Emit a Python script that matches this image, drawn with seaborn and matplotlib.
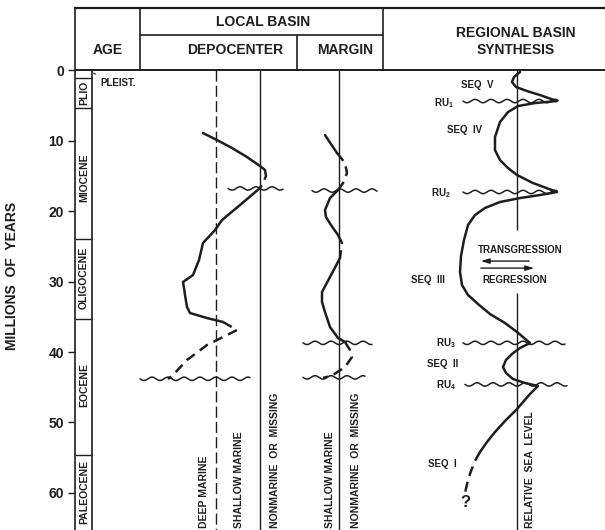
import numpy as np
import matplotlib
matplotlib.use("Agg")
import matplotlib.pyplot as plt
import seaborn as sns

# ---- data (x = horizontal chart position, age in million years) ----
# depocenter facies curve
depo_a_x = [203, 217, 232, 247, 260, 265]
depo_a_age = [8.94, 9.93, 11.06, 12.34, 13.62, 14.18]
depo_b_x = [265, 266, 263, 260]
depo_b_age = [14.18, 15.04, 16.03, 16.74]
depo_c_x = [260, 240, 222, 215, 203, 199, 193, 183, 184, 185, 187, 190, 207, 223]
depo_c_age = [16.74, 19.15, 21.28, 22.70, 24.54, 26.95, 29.08, 30.07, 30.92, 31.91, 33.62, 34.47, 35.18, 35.74]
depo_d_x = [223, 237, 227, 207, 187, 173, 168]
depo_d_age = [35.74, 36.88, 37.59, 39.01, 41.13, 43.26, 43.83]

# margin facies curve
marg_a_x = [325, 331, 337]
marg_a_age = [9.22, 10.50, 11.77]
marg_b_x = [337, 345, 347, 343, 338]
marg_b_age = [11.77, 13.19, 14.61, 16.03, 17.02]
marg_c_x = [338, 330, 325, 326, 331, 338]
marg_c_age = [17.02, 18.16, 19.86, 20.85, 21.99, 23.40]
marg_d_x = [338, 342, 341, 340]
marg_d_age = [23.40, 24.54, 25.53, 26.67]
marg_e_x = [340, 330, 322, 322, 325, 330, 338, 345]
marg_e_age = [26.67, 29.36, 31.49, 32.91, 34.33, 36.45, 38.01, 38.58]
marg_f_x = [345, 350, 352, 345, 333, 323]
marg_f_age = [38.58, 39.72, 40.71, 42.13, 43.26, 43.69]

# regional relative sea level curve
reg_a_x = [520, 514, 512, 516, 527, 540, 557, 535, 518, 508, 500, 495, 495, 500, 508, 517,
           533, 557, 540, 520, 500, 485, 475, 468, 464, 461, 460, 462, 468, 478, 490, 505,
           517, 530, 520, 512, 506, 503, 506, 513, 525, 538, 530, 517, 505, 495, 487, 480]
reg_a_age = [0.28, 0.99, 1.70, 2.41, 2.98, 3.55, 4.40, 4.68, 5.11, 5.96, 7.38, 9.50, 11.35, 12.77, 13.90, 14.89,
             16.03, 17.30, 17.73, 18.16, 18.72, 19.57, 20.57, 21.99, 24.11, 26.38, 28.65, 30.50, 31.91, 33.19, 34.61, 35.89,
             37.16, 38.72, 39.43, 40.28, 41.13, 42.13, 42.98, 43.83, 44.40, 44.82, 45.96, 48.09, 49.79, 51.35, 52.77, 54.18]
reg_b_x = [480, 475, 471, 468, 465]
reg_b_age = [54.18, 55.46, 56.88, 58.16, 60.0]

# unconformities: (age, x start, x end)
unconformities = [(16.8, 228, 283), (43.8, 140, 250),
                  (17.1, 312, 377), (38.7, 303, 372), (43.6, 303, 365),
                  (4.4, 463, 558), (17.3, 463, 557), (38.7, 463, 565), (44.6, 465, 567)]

epoch_names = ["PLIO", "MIOCENE", "OLIGOCENE", "EOCENE", "PALEOCENE"]
epoch_label_age = [3.3, 15.3, 29.5, 44.7, 59.9]
epoch_bounds = [1.13, 5.4, 24.0, 35.3, 54.6]

header_text = ["AGE", "LOCAL BASIN", "DEPOCENTER", "MARGIN", "REGIONAL BASIN\nSYNTHESIS"]
header_x = [108, 263, 235, 345, 516]
header_age = [-2.85, -6.8, -2.85, -2.85, -4.1]

column_labels = ["DEEP MARINE", "SHALLOW MARINE", "NONMARINE  OR  MISSING",
                 "SHALLOW MARINE", "NONMARINE  OR  MISSING", "RELATIVE  SEA  LEVEL"]
column_x = [204, 239, 275, 330, 356, 530]

seq_labels = ["SEQ  V", r"RU$_1$", "SEQ  IV", r"RU$_2$", "SEQ  III", r"RU$_3$", "SEQ  II", r"RU$_4$", "SEQ  I"]
seq_x = [477, 444, 465, 441, 428, 446, 443, 446, 442]
seq_age = [2.13, 4.7, 8.5, 17.4, 29.8, 38.7, 41.7, 44.7, 55.9]

age_ticks = [0, 10, 20, 30, 40, 50, 60]

# ---- style ----
sns.set_style("white")
plt.rcParams['font.family'] = ['Liberation Sans', 'DejaVu Sans']
plt.rcParams['font.weight'] = 'bold'
plt.rcParams['mathtext.fontset'] = 'custom'
plt.rcParams['mathtext.rm'] = 'Liberation Sans:bold'
plt.rcParams['mathtext.it'] = 'Liberation Sans:bold'
plt.rcParams['mathtext.default'] = 'rm'
INK = '#1e1e1e'

fig = plt.figure(figsize=(6.05, 5.3), dpi=100)
ax = fig.add_axes([75 / 605, 0, 530 / 605, 522 / 530])
ax.set_xlim(75, 605)
ax.set_ylim(65.25, -8.8)

solid = dict(color=INK, lw=1.8, sort=False, estimator=None, ax=ax)
dash = dict(color=INK, lw=1.8, sort=False, estimator=None, ax=ax, linestyle=(0, (4, 2.5)))

for xs, ys in [(depo_a_x, depo_a_age), (depo_c_x, depo_c_age), (marg_a_x, marg_a_age),
               (marg_c_x, marg_c_age), (marg_e_x, marg_e_age), (reg_a_x, reg_a_age)]:
    sns.lineplot(x=xs, y=ys, **solid)
for xs, ys in [(depo_b_x, depo_b_age), (depo_d_x, depo_d_age), (marg_b_x, marg_b_age),
               (marg_d_x, marg_d_age), (marg_f_x, marg_f_age), (reg_b_x, reg_b_age)]:
    sns.lineplot(x=xs, y=ys, **dash)

# wavy unconformity markers
for age, x0, x1 in unconformities:
    xs = np.linspace(x0, x1, 200)
    ax.plot(xs, age + 0.24 * np.sin((xs - x0) / 16 * 2 * np.pi), color=INK, lw=1.1)

# reference lines for facies / sea level
ax.vlines(216, 0, 65.25, color=INK, lw=1.0, linestyles=(0, (8, 3)))
ax.vlines([260, 339], 0, 65.25, color=INK, lw=1.0)
ax.vlines(517, 0, 22.7, color=INK, lw=1.0)
ax.vlines(517, 31.6, 65.25, color=INK, lw=1.0)

# header table
ax.hlines(0, 75, 605, color=INK, lw=1.4)
ax.hlines(-4.96, 140, 383, color=INK, lw=1.2)
ax.vlines([140, 383], -8.8, 0, color=INK, lw=1.2)
ax.vlines(297, -4.96, 0, color=INK, lw=1.2)
for t, x, a in zip(header_text, header_x, header_age):
    ax.text(x, a, t, ha='center', va='center', fontsize=10, color=INK, linespacing=1.25)

# age strip
ax.vlines(92, 0, 65.25, color=INK, lw=1.2)
ax.hlines(epoch_bounds, 75, 92, color=INK, lw=1.0)
for t, a in zip(epoch_names, epoch_label_age):
    ax.text(84, a, t, rotation=90, ha='center', va='center', fontsize=7.5, color=INK)
ax.annotate("PLEIST.", xy=(91, 0.3), xytext=(100, 1.9), fontsize=7, color=INK, va='center',
            arrowprops=dict(arrowstyle='-', color=INK, lw=0.8))

# column labels
for t, x in zip(column_labels, column_x):
    ax.text(x, 65.0, t, rotation=90, ha='center', va='bottom', fontsize=7.5, color=INK)

# sequence labels
for t, x, a in zip(seq_labels, seq_x, seq_age):
    ax.text(x, a, t, ha='center', va='center', fontsize=7, color=INK)
ax.text(465, 61.4, "?", ha='center', va='center', fontsize=12, color=INK)

ax.text(520, 25.5, "TRANSGRESSION", ha='center', va='center', fontsize=7, color=INK)
ax.text(515, 29.8, "REGRESSION", ha='center', va='center', fontsize=7, color=INK)
ax.annotate("", xy=(478, 27.1), xytext=(532, 27.1),
            arrowprops=dict(arrowstyle='-|>,head_length=0.5,head_width=0.15', color=INK, lw=1.0))
ax.annotate("", xy=(537, 28.1), xytext=(478, 28.1),
            arrowprops=dict(arrowstyle='-|>,head_length=0.5,head_width=0.15', color=INK, lw=1.0))

# axes
ax.set_xticks([])
ax.set_yticks(age_ticks)
ax.tick_params(axis='y', left=True, length=5, width=1.0, pad=3, labelsize=10, colors=INK)
for s in ['right', 'bottom']:
    ax.spines[s].set_visible(False)
ax.spines['left'].set_linewidth(1.2)
ax.spines['top'].set_linewidth(1.6)
ax.spines['left'].set_color(INK)
ax.spines['top'].set_color(INK)
ax.set_xlabel("")
ax.set_ylabel("")
fig.text(12 / 605, 1 - 276 / 530, "MILLIONS  OF  YEARS", rotation=90, ha='center', va='center',
         fontsize=10, color=INK)

fig.savefig("out.png", dpi=100)
